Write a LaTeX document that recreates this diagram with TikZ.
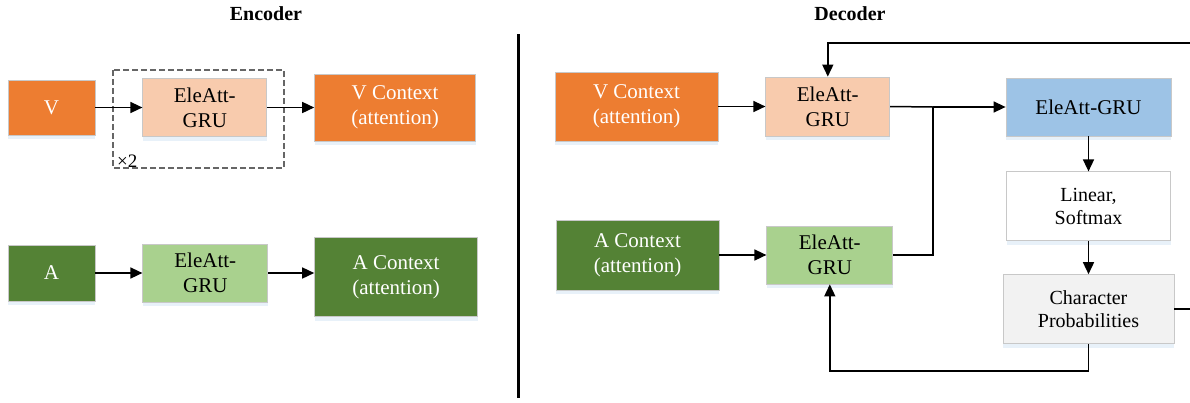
\documentclass[tikz,border=0pt]{standalone}
\usepackage{fontspec}
\setmainfont{Liberation Serif}
\definecolor{vorange}{RGB}{237, 125, 49}
\definecolor{vpeach}{RGB}{248, 203, 173}
\definecolor{agreen}{RGB}{84, 130, 53}
\definecolor{alightgreen}{RGB}{169, 209, 142}
\definecolor{grublue}{RGB}{157, 195, 230}
\definecolor{probgray}{RGB}{242, 242, 242}
\definecolor{edgegray}{RGB}{200, 200, 200}
\definecolor{glowblue}{RGB}{222, 235, 247}
\usetikzlibrary{
  arrows.meta,
  calc,
  positioning,
  shadows,
}
\tikzset{
  >={Triangle[length=12pt,width=11pt]},
  block/.style={draw=edgegray,line width=0.8pt,rectangle,align=center,inner sep=0pt,
    drop shadow={shadow xshift=0pt,shadow yshift=-4pt,fill=glowblue,opacity=0.7}},
  dark/.style={block,text=white},
  link/.style={line width=1.5pt},
}

\begin{document}
\begin{tikzpicture}[x=1pt,y=-1pt,node distance=0pt and 47pt,
    font=\fontsize{21}{25}\selectfont]
      \useasboundingbox (0,0) rectangle (1190,402);

      % titles and divider
      \node[font=\fontsize{20}{24}\selectfont\bfseries] (enctitle) at (266,14) {Encoder};
      \node[font=\fontsize{20}{24}\selectfont\bfseries] (dectitle) at (850,14) {Decoder};
      \draw[line width=3pt] (518,34) -- (518,398);

      % encoder, V branch
      \node[dark,fill=vorange,minimum width=87,minimum height=55]    (vin)  at (51.5,107.5) {V};
      \node[block,fill=vpeach,minimum width=124,minimum height=58]   (evgru) [right=of vin]  {EleAtt-\\GRU};
      \node[dark,fill=vorange,minimum width=161,minimum height=67]   (evctx) [right=of evgru] {V Context\\(attention)};
      \draw[dash pattern=on 6pt off 3pt,line width=1.2pt,gray!80!black] (113,70) rectangle (284,168);
      \node[anchor=south west,inner sep=0pt,font=\fontsize{19}{22}\selectfont] (times) at (117,168) {×2};

      % encoder, A branch
      \node[dark,fill=agreen,minimum width=87,minimum height=56]        (ain)  at (51.5,273) {A};
      \node[block,fill=alightgreen,minimum width=125,minimum height=58] (eagru) [right=of ain]  {EleAtt-\\GRU};
      \node[dark,fill=agreen,minimum width=163,minimum height=79,yshift=-4] (eactx) [right=46 of eagru] {A Context\\(attention)};

      \draw[link,->] (vin) -- (evgru);
      \draw[link,->] (evgru) -- (evctx);
      \draw[link,->] (ain) -- (eagru);
      \draw[link,->] (eagru) -- (eagru -| eactx.west);

      % decoder inputs
      \node[dark,fill=vorange,minimum width=163,minimum height=69]      (dvctx) at (636.5,106.5) {V Context\\(attention)};
      \node[block,fill=vpeach,minimum width=124,minimum height=59]      (dvgru) [right=of dvctx] {EleAtt-\\GRU};
      \node[dark,fill=agreen,minimum width=163,minimum height=70]       (dactx) at (637.5,255) {A Context\\(attention)};
      \node[block,fill=alightgreen,minimum width=126,minimum height=58] (dagru) [right=of dactx] {EleAtt-\\GRU};

      % decoder output column
      \node[block,fill=grublue,minimum width=165,minimum height=58]     (dgru) at (1088.5,107) {EleAtt-GRU};
      \node[block,fill=white,minimum width=164,minimum height=69,font=\fontsize{20}{23}\selectfont] (lin)  [below=35pt of dgru] {Linear,\\Softmax};
      \node[block,fill=probgray,minimum width=171,minimum height=69,font=\fontsize{20}{23}\selectfont] (prob) [below=33pt of lin] {Character\\Probabilities};

      \coordinate (jn) at (933,107);
      \coordinate (topR) at (1190,43);
      \coordinate (probR) at (1190,307.5);

      \draw[link,->] (dvctx) -- (dvgru);
      \draw[link,->] (dactx) -- (dagru);
      \draw[link] (dvgru.east) -- (jn);
      \draw[link] (dagru.east) -| (jn);
      \draw[link,->] (jn) -- (dgru.west);
      \draw[link,->] (dgru) -- (lin);
      \draw[link,->] (lin) -- (prob);
      \draw[link,->] (topR) -| (dvgru.north);
      \draw[link] (prob.east) -- (prob.east -| probR);
      \draw[link,->] (prob.south) -- ++(0,27) -| (dagru.south);

    \end{tikzpicture}
\end{document}
